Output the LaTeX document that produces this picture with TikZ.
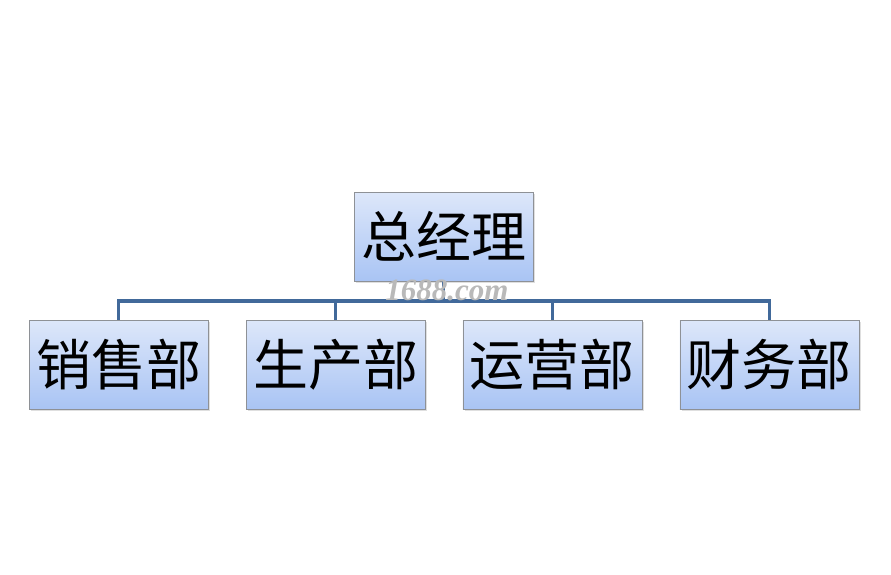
\documentclass[tikz,border=0pt]{standalone}
\usepackage{fontspec}
\newfontfamily\cjk{Noto Sans CJK SC}
\newfontfamily\wmfont{Liberation Serif}
\usepackage{tikz}
\usetikzlibrary{positioning,shadows}
\definecolor{boxtop}{HTML}{DDE7FA}
\definecolor{boxbot}{HTML}{A9C4F4}
\definecolor{boxline}{HTML}{8E9196}
\definecolor{linkblue}{HTML}{41699A}

\begin{document}
\begin{tikzpicture}[x=1pt, y=-1pt, node distance=37.5pt]
    \tikzstyle{dept} = [rectangle, minimum width=179pt, minimum height=89pt, inner sep=0pt, text centered, draw=boxline, top color=boxtop, bottom color=boxbot, drop shadow={shadow xshift=2pt, shadow yshift=-2pt, opacity=0.25}, font=\cjk\fontsize{55}{60}\selectfont]
    \tikzstyle{link} = [linkblue, line width=3.2pt]
    \useasboundingbox (0,0) rectangle (891,574);

    \node (gm) [dept] at (443.5,236.5) {总经理};
    \node (prod) [dept] at (335.5,364.5) {生产部};
    \node (sales) [dept, left=of prod] {销售部};
    \node (ops) [dept, right=of prod] {运营部};
    \node (fin) [dept, right=of ops] {财务部};
    \coordinate (bus) at (443.5,301);

    \draw [link] (gm.south) -- (bus);
    \draw [link] (sales.north) |- (bus) -| (fin.north);
    \draw [link] (prod.north) -- (prod.north |- bus);
    \draw [link] (ops.north) -- (ops.north |- bus);

    % watermark
    \node (mark) [text=gray!55, font=\wmfont\bfseries\itshape\fontsize{31}{33}\selectfont] at (447,290) {1688.com};
\end{tikzpicture}
\end{document}
